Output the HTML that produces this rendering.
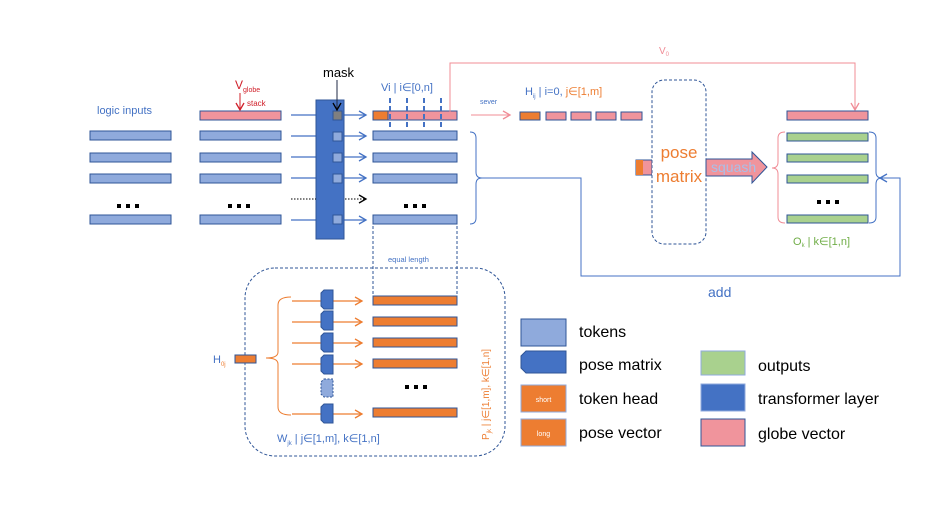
<!DOCTYPE html>
<html><head><meta charset="utf-8"><style>
html,body{margin:0;padding:0;background:#fff;}
svg{display:block;font-family:"Liberation Sans",Arial,sans-serif;}
</style></head><body>
<svg width="926" height="521" viewBox="0 0 926 521" xmlns="http://www.w3.org/2000/svg">
<defs>
<marker id="ab" markerWidth="10" markerHeight="10" refX="8" refY="5" orient="auto" markerUnits="userSpaceOnUse"><path d="M1,1 L8,5 L1,9" fill="none" stroke="#4472C4" stroke-width="1.3"/></marker>
<marker id="ak" markerWidth="10" markerHeight="10" refX="8" refY="5" orient="auto" markerUnits="userSpaceOnUse"><path d="M1,1 L8,5 L1,9" fill="none" stroke="#000" stroke-width="1.3"/></marker>
<marker id="ap" markerWidth="10" markerHeight="10" refX="8" refY="5" orient="auto" markerUnits="userSpaceOnUse"><path d="M1,1 L8,5 L1,9" fill="none" stroke="#F08C96" stroke-width="1.3"/></marker>
<marker id="ar" markerWidth="10" markerHeight="10" refX="8" refY="5" orient="auto" markerUnits="userSpaceOnUse"><path d="M1,1 L8,5 L1,9" fill="none" stroke="#D0202A" stroke-width="1.3"/></marker>
<marker id="ao" markerWidth="10" markerHeight="10" refX="8" refY="5" orient="auto" markerUnits="userSpaceOnUse"><path d="M1,1 L8,5 L1,9" fill="none" stroke="#ED7D31" stroke-width="1.3"/></marker>
</defs>

<text x="97" y="114" font-size="11" fill="#4472C4">logic inputs</text>
<g fill="#8FAADC" stroke="#2F5597" stroke-width="1">
<rect x="90" y="131" width="81" height="9"/><rect x="90" y="153" width="81" height="9"/><rect x="90" y="174" width="81" height="9"/><rect x="90" y="215" width="81" height="9"/>
<rect x="200" y="131" width="81" height="9"/><rect x="200" y="153" width="81" height="9"/><rect x="200" y="174" width="81" height="9"/><rect x="200" y="215" width="81" height="9"/>
<rect x="373" y="131" width="84" height="9"/><rect x="373" y="153" width="84" height="9"/><rect x="373" y="174" width="84" height="9"/><rect x="373" y="215" width="84" height="9"/>
</g>
<rect x="200" y="111" width="81" height="9" fill="#F0949C" stroke="#2F5597"/>
<g fill="#000"><rect x="117" y="204" width="4" height="4"/><rect x="126" y="204" width="4" height="4"/><rect x="135" y="204" width="4" height="4"/>
<rect x="228" y="204" width="4" height="4"/><rect x="237" y="204" width="4" height="4"/><rect x="246" y="204" width="4" height="4"/>
<rect x="404" y="204" width="4" height="4"/><rect x="413" y="204" width="4" height="4"/><rect x="422" y="204" width="4" height="4"/>
<rect x="817" y="200" width="4" height="4"/><rect x="826" y="200" width="4" height="4"/><rect x="835" y="200" width="4" height="4"/>
<rect x="405" y="385" width="4" height="4"/><rect x="414" y="385" width="4" height="4"/><rect x="423" y="385" width="4" height="4"/></g>

<text x="235" y="89" font-size="12" fill="#D0202A">V<tspan font-size="7" dy="3">globe</tspan></text>
<line x1="240" y1="93" x2="240" y2="110" stroke="#D0202A" marker-end="url(#ar)"/>
<text x="247" y="106" font-size="8" fill="#D0202A">stack</text>

<g stroke="#4472C4" stroke-width="1.2">
<line x1="291" y1="115" x2="366" y2="115" marker-end="url(#ab)"/>
<line x1="291" y1="136" x2="366" y2="136" marker-end="url(#ab)"/>
<line x1="291" y1="157" x2="366" y2="157" marker-end="url(#ab)"/>
<line x1="291" y1="178" x2="366" y2="178" marker-end="url(#ab)"/>
<line x1="291" y1="220" x2="366" y2="220" marker-end="url(#ab)"/>
</g>
<line x1="291" y1="199" x2="366" y2="199" stroke="#000" stroke-dasharray="1.5,1.5" marker-end="url(#ak)"/>
<rect x="316" y="100" width="28" height="139" fill="#4472C4" stroke="#2F5597"/>
<rect x="333" y="111" width="9" height="9" fill="#7F7F7F" stroke="#2F5597"/>
<g fill="#8FAADC" stroke="#2F5597"><rect x="333" y="132" width="9" height="9"/><rect x="333" y="153" width="9" height="9"/><rect x="333" y="174" width="9" height="9"/><rect x="333" y="215" width="9" height="9"/></g>
<line x1="291" y1="199" x2="316" y2="199" stroke="#000" stroke-dasharray="1.5,1.5"/>
<text x="323" y="77" font-size="13" fill="#000">mask</text>
<line x1="337" y1="80" x2="337" y2="110" stroke="#1F2A44" marker-end="url(#ak)"/>

<rect x="373" y="111" width="84" height="9" fill="#F0949C" stroke="#2F5597"/>
<rect x="373" y="111" width="15" height="9" fill="#ED7D31" stroke="#2F5597"/>
<text x="381" y="91" font-size="11" fill="#4472C4">Vi | i∈[0,n]</text>
<g stroke="#4472C4" stroke-width="2" stroke-dasharray="5,3"><line x1="390" y1="98" x2="390" y2="127"/><line x1="407" y1="98" x2="407" y2="127"/><line x1="424" y1="98" x2="424" y2="127"/><line x1="441" y1="98" x2="441" y2="127"/></g>
<g stroke="#2F5597" stroke-dasharray="3,2"><line x1="373" y1="226" x2="373" y2="296"/><line x1="457" y1="226" x2="457" y2="296"/></g>
<text x="388" y="262" font-size="7.5" fill="#4472C4">equal length</text>

<path d="M470,132 Q476,132 476,138 L476,172 Q476,178 482,178 Q476,178 476,184 L476,218 Q476,224 470,224" fill="none" stroke="#4472C4"/>
<path d="M482,178 L581,178 L581,276 L900,276 L900,178 L880,178" fill="none" stroke="#4472C4" marker-end="url(#ab)"/>
<text x="708" y="297" font-size="14" fill="#4472C4">add</text>

<path d="M450,112 L450,63 L855,63 L855,110" fill="none" stroke="#F08C96" marker-end="url(#ap)"/>
<text x="659" y="54" font-size="10" fill="#F08C96">V<tspan font-size="6" dy="2">0</tspan></text>
<text x="480" y="104" font-size="7" fill="#4472C4">sever</text>
<line x1="471" y1="115" x2="510" y2="115" stroke="#F08C96" marker-end="url(#ap)"/>
<text x="525" y="95" font-size="11" fill="#4472C4">H<tspan font-size="6" dy="3">ij</tspan><tspan dy="-3"> | i=0, </tspan><tspan fill="#ED7D31"> j∈[1,m]</tspan></text>
<rect x="520" y="112" width="20" height="8" fill="#ED7D31" stroke="#2F5597"/>
<g fill="#F0949C" stroke="#2F5597"><rect x="546" y="112" width="20" height="8"/><rect x="571" y="112" width="20" height="8"/><rect x="596" y="112" width="20" height="8"/><rect x="621" y="112" width="21" height="8"/></g>

<rect x="636" y="160" width="16" height="15" fill="#F0949C" stroke="#2F5597"/>
<rect x="636" y="160" width="7" height="15" fill="#ED7D31"/>
<rect x="652" y="80" width="54" height="164" rx="12" fill="#fff" stroke="#2F5597" stroke-dasharray="3,2"/>
<text x="679" y="158" font-size="17" fill="#ED7D31" text-anchor="middle">pose</text>
<text x="679" y="182" font-size="17" fill="#ED7D31" text-anchor="middle">matrix</text>
<path d="M706,159 L752,159 L752,152 L767,167 L752,183 L752,176 L706,176 Z" fill="#F0949C" stroke="#2F5597"/>
<text x="711" y="172" font-size="14" fill="#A9BFE8">squash</text>

<rect x="787" y="111" width="81" height="9" fill="#F0949C" stroke="#2F5597"/>
<g fill="#A9D18E" stroke="#2F5597"><rect x="787" y="133" width="81" height="8"/><rect x="787" y="154" width="81" height="8"/><rect x="787" y="175" width="81" height="8"/><rect x="787" y="215" width="81" height="8"/></g>
<path d="M785,132 Q778,132 778,138 L778,162 Q778,168 772,168 Q778,168 778,174 L778,217 Q778,223 785,223" fill="none" stroke="#F08C96"/>
<path d="M869,132 Q876,132 876,138 L876,172 Q876,178 882,178 Q876,178 876,184 L876,217 Q876,223 869,223" fill="none" stroke="#4472C4"/>
<text x="793" y="245" font-size="11" fill="#70AD47">O<tspan font-size="6" dy="2">k</tspan><tspan dy="-2"> | k∈[1,n]</tspan></text>

<rect x="245" y="268" width="260" height="188" rx="30" fill="none" stroke="#2F5597" stroke-dasharray="3,2"/>
<text x="213" y="363" font-size="11" fill="#4472C4">H<tspan font-size="6" dy="3" fill="#ED7D31">0j</tspan></text>
<rect x="235" y="355" width="21" height="8" fill="#ED7D31" stroke="#2F5597"/>
<path d="M291,297 Q278,297 278,305 L278,352 Q278,358 266,358 Q278,358 278,364 L278,407 Q278,415 291,415" fill="none" stroke="#ED7D31"/>
<g stroke="#ED7D31" stroke-width="1.2">
<line x1="292" y1="301" x2="362" y2="301" marker-end="url(#ao)"/>
<line x1="292" y1="322" x2="362" y2="322" marker-end="url(#ao)"/>
<line x1="292" y1="343" x2="362" y2="343" marker-end="url(#ao)"/>
<line x1="292" y1="364" x2="362" y2="364" marker-end="url(#ao)"/>
<line x1="292" y1="414" x2="362" y2="414" marker-end="url(#ao)"/>
</g>
<g fill="#4472C4" stroke="#2F5597">
<path d="M324,290 L333,290 L333,309 L324,309 L321,306 L321,293 Z"/>
<path d="M324,311 L333,311 L333,330 L324,330 L321,327 L321,314 Z"/>
<path d="M324,333 L333,333 L333,352 L324,352 L321,349 L321,336 Z"/>
<path d="M324,355 L333,355 L333,374 L324,374 L321,371 L321,358 Z"/>
<path d="M324,404 L333,404 L333,423 L324,423 L321,420 L321,407 Z"/>
</g>
<path d="M324,379 L333,379 L333,397 L324,397 L321,394 L321,382 Z" fill="#8FAADC" stroke="#2F5597" stroke-dasharray="2,1.5"/>
<g fill="#ED7D31" stroke="#2F5597"><rect x="373" y="296" width="84" height="9"/><rect x="373" y="317" width="84" height="9"/><rect x="373" y="338" width="84" height="9"/><rect x="373" y="359" width="84" height="9"/><rect x="373" y="408" width="84" height="9"/></g>
<text x="277" y="442" font-size="11" fill="#4472C4">W<tspan font-size="6" dy="3">jk</tspan><tspan dy="-3"> | j∈[1,m], k∈[1,n]</tspan></text>
<text transform="translate(489,440) rotate(-90)" font-size="10" fill="#ED7D31">P<tspan font-size="6" dy="2">jk</tspan><tspan dy="-2"> | j∈[1,m], k∈[1,n]</tspan></text>

<rect x="521" y="319" width="45" height="27" fill="#8FAADC" stroke="#2F5597"/>
<path d="M526,351 L566,351 L566,373 L526,373 L521,368 L521,356 Z" fill="#4472C4" stroke="#2F5597"/>
<rect x="521" y="385" width="45" height="27" fill="#ED7D31" stroke="#8FAADC"/>
<text x="543.5" y="402" font-size="7" fill="#fff" text-anchor="middle">short</text>
<rect x="521" y="419" width="45" height="27" fill="#ED7D31" stroke="#8FAADC"/>
<text x="543.5" y="436" font-size="7" fill="#fff" text-anchor="middle">long</text>
<g font-size="16" fill="#000">
<text x="579" y="337">tokens</text><text x="579" y="370">pose matrix</text><text x="579" y="404">token head</text><text x="579" y="438">pose vector</text>
<text x="758" y="371">outputs</text><text x="758" y="404">transformer layer</text><text x="758" y="439">globe vector</text>
</g>
<rect x="701" y="351" width="44" height="24" fill="#A9D18E" stroke="#8FAADC"/>
<rect x="701" y="384" width="44" height="27" fill="#4472C4" stroke="#8FAADC"/>
<rect x="701" y="419" width="44" height="27" fill="#F0949C" stroke="#2F5597"/>
</svg>
</body></html>
